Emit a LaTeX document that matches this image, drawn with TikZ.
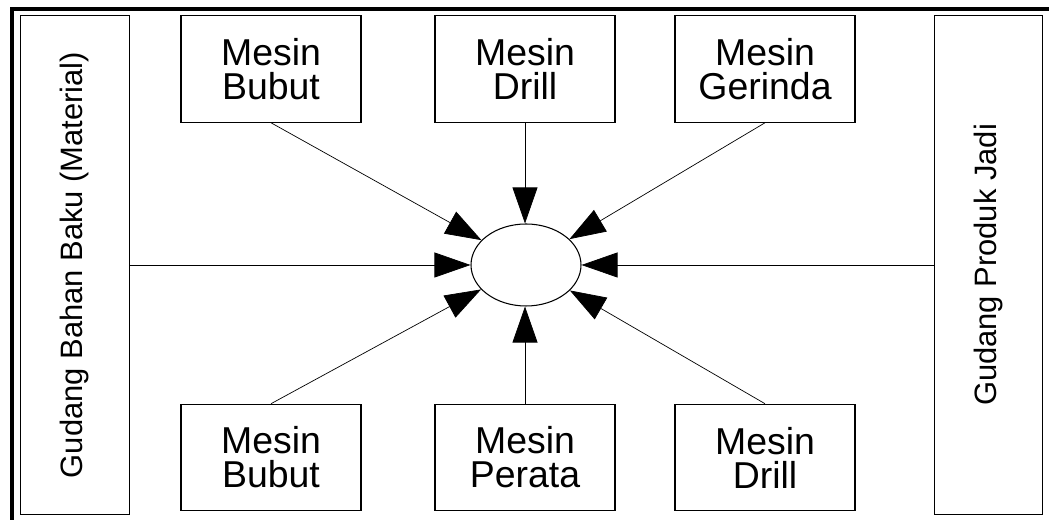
\documentclass[tikz,border=0pt]{standalone}
\usepackage{fontspec}
\setmainfont{Liberation Sans}
\usetikzlibrary{arrows.meta,shapes.geometric}
\begin{document}
\begin{tikzpicture}[>={Triangle[length=0.72cm,width=0.5cm]},
        mesin/.style={draw, line width=0.6pt, minimum width=3.6cm, minimum height=2.13cm, inner sep=0pt, align=center, font=\fontsize{21.3}{19.4}\selectfont},
        gudang/.style={draw, line width=0.6pt, rotate=90, minimum width=9.98cm, minimum height=2.17cm, inner sep=0pt, font=\fontsize{17.6}{20}\selectfont}]
        \useasboundingbox (0,0) rectangle (20.98,10.4);
        \draw [line width=2.3pt] (0.24,0)--(0.24,10.22)--(20.98,10.22);
        % gudang kiri dan kanan
        \node [gudang] (bahan) at (1.5,5.1) {Gudang Bahan Baku (Material)};
        \node [gudang] (jadi) at (19.77,5.1) {Gudang Produk Jadi};
        \node [draw, line width=0.6pt, ellipse, minimum width=2.2cm, minimum height=1.64cm, inner sep=0pt] (pusat) at (10.52,5.1) {};
        % mesin atas
        \node [mesin] (bubutA) at (5.42,9.02) {Mesin\\Bubut};
        \node [mesin] (drillA) at (10.5,9.02) {Mesin\\Drill};
        \node [mesin] (gerinda) at (15.3,9.02) {Mesin\\Gerinda};
        % mesin bawah
        \node [mesin] (bubutB) at (5.42,1.25) {Mesin\\Bubut};
        \node [mesin] (perata) at (10.5,1.25) {Mesin\\Perata};
        \node [mesin] (drillB) at (15.3,1.25) {Mesin\\Drill};
        \draw [->] (bahan)--(pusat);
        \draw [->] (jadi)--(pusat);
        \draw [->] (bubutA.south)--(pusat);
        \draw [->] (drillA.south)--(drillA.south|-pusat.north);
        \draw [->] (gerinda.south)--(pusat);
        \draw [->] (bubutB.north)--(pusat);
        \draw [->] (perata.north)--(perata.north|-pusat.south);
        \draw [->] (drillB.north)--(pusat);
\end{tikzpicture}
\end{document}
